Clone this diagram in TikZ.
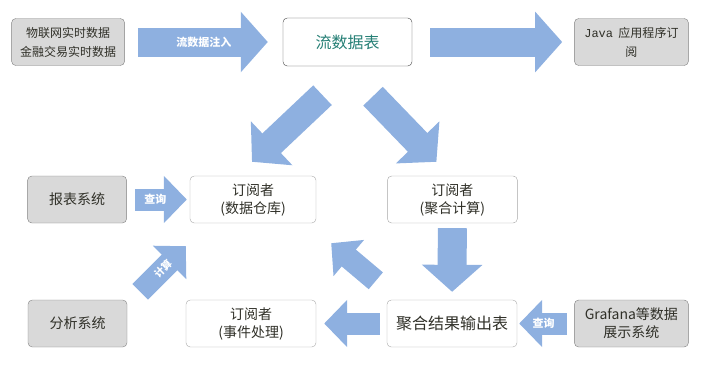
\documentclass[tikz,border=0pt]{standalone}
\usepackage{fontspec}
\setmainfont{Noto Sans CJK SC}
\setmonofont{Liberation Mono}
\usepackage{xcolor}
\usetikzlibrary{arrows.meta, positioning, calc}

\definecolor{arrowblue}{HTML}{8EB0E0}
\definecolor{boxgray}{HTML}{D9D9D9}
\definecolor{textdark}{RGB}{48,48,40}
\definecolor{tealtext}{RGB}{38,128,118}

\begin{document}
\begin{tikzpicture}[
      x=1pt, y=-1pt,
      font=\fontsize{14}{18}\selectfont, text=textdark,
      box/.style={draw=black!35, rounded corners=1.5mm, align=center, minimum width=130pt, minimum height=47pt, inner sep=2pt, fill=white},
      sysbox/.style={box, draw=black!50, fill=boxgray, minimum width=99pt},
      srcbox/.style={sysbox, minimum width=114pt, font=\fontsize{12}{19}\selectfont},
      bigarrow/.style={draw=arrowblue, line width=29pt, -{Triangle[length=27pt, width=59pt]}},
      midarrow/.style={draw=arrowblue, line width=22pt, -{Triangle[length=23pt, width=46pt]}},
      lbl/.style={text=white, font=\fontsize{11}{12}\selectfont\bfseries}
    ]
      \useasboundingbox (0,0) rectangle (706,370);
      % top row
      \node[box, draw=black!75, minimum width=129pt, minimum height=48pt, text=tealtext, font=\fontsize{16}{18}\selectfont] (table) at (347.5,42) {流数据表};
      \node[srcbox, minimum width=113pt, left=158pt of table] (src) {物联网实时数据\\金融交易实时数据};
      \node[srcbox, right=162pt of table] (java) {{\ttfamily Java}\ \ 应用程序订\\阅};
      % middle row
      \node[box, minimum width=126pt] (dw) at (253,199.5) {订阅者\\(数据仓库)};
      \node[box, right=71pt of dw] (agg) {订阅者\\(聚合计算)};
      \node[sysbox, left=63pt of dw] (report) {报表系统};
      % bottom row
      \node[box, font=\fontsize{16}{18}\selectfont] (out) at (452,323.5) {聚合结果输出表};
      \node[box] (event) at (251,323.5) {订阅者\\(事件处理)};
      \node[sysbox] (analysis) at (77.5,323.5) {分析系统};
      \node[srcbox, right=57pt of out, font=\fontsize{14}{18}\selectfont] (grafana) {Grafana等数据\\展示系统};
      % arrows
      \draw[bigarrow, shorten <=13pt, shorten >=15pt] (src) -- (table) node[midway, lbl] {流数据注入};
      \draw[bigarrow, shorten <=18pt, shorten >=12pt] (table) -- (java);
      \draw[bigarrow, line width=27pt] ($(table.south)+(-25,29)$) -- ($(dw.north)+(-1,-14)$);
      \draw[bigarrow, line width=27pt] ($(table.south)+(25.5,30)$) -- ($(agg.north)+(-16,-14)$);
      \draw[bigarrow, shorten <=5pt, shorten >=8pt] (agg) -- (out);
      \draw[midarrow, shorten <=8pt, shorten >=3pt] (report) -- (dw) node[midway, lbl, xshift=-3pt] {查询};
      \draw[midarrow, shorten <=7pt, shorten >=2pt] (grafana) -- (out) node[midway, lbl, xshift=-2pt] {查询};
      \draw[midarrow, shorten <=7pt, shorten >=8pt] (out) -- (event);
      \draw[midarrow] ($(out.north west)+(-11,-19)$) -- ($(dw.south east)+(15,20)$);
      \draw[midarrow] ($(analysis.north east)+(13,-8)$) -- ($(dw.south west)+(-4,23)$) node[midway, lbl, sloped, font=\fontsize{10}{12}\selectfont\bfseries] {计算};
    \end{tikzpicture}
\end{document}
